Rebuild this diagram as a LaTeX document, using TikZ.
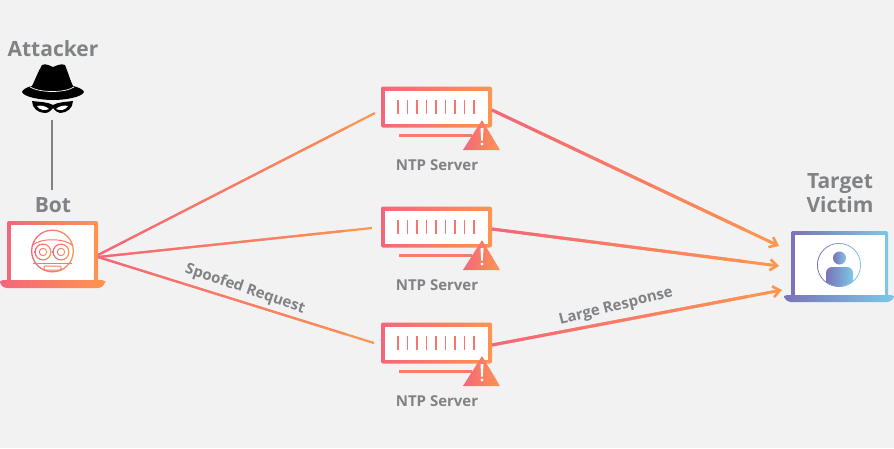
\documentclass[tikz,border=0pt]{standalone}
\usepackage{fontspec}
\setmainfont{Open Sans}
\usetikzlibrary{arrows.meta, positioning, calc}
\definecolor{bgc}{HTML}{F2F2F2}
\definecolor{pinkc}{HTML}{F4667C}
\definecolor{orangec}{HTML}{FD9450}
\definecolor{greyc}{HTML}{808285}
\definecolor{purplec}{HTML}{7B72B8}
\definecolor{bluec}{HTML}{7CC8E6}
\tikzset{
  warm/.style={left color=pinkc, right color=orangec},
  cool/.style={left color=purplec, right color=bluec},
  lbl/.style={text=greyc, font=\bfseries\fontsize{21}{24}\selectfont, inner sep=0pt},
  small/.style={text=greyc, font=\bfseries\fontsize{15}{18}\selectfont, inner sep=0pt},
  server/.style={warm, rectangle, rounded corners=2pt, minimum width=111pt, minimum height=41pt, inner sep=0pt},
  wire/.style={draw=orangec, line width=2.2pt},
  warr/.style={wire, line width=3pt, -{Straight Barb[length=7pt,width=11pt,line width=2.6pt]}},
  tick/.style={draw=pinkc!70!orangec, line width=1.5pt},
  link/.style={draw=greyc, line width=2.5pt},
}
\begin{document}
\begin{tikzpicture}[x=1pt, y=-1pt]
  \useasboundingbox[fill=bgc] (0,0) rectangle (894,448);

  % labels
  \node[lbl] (attacker) at (53,49) {Attacker};
  \node[lbl] (botlabel) at (53,205) {Bot};
  \node[lbl, align=center] (victimlabel) at (840,193) {Target\\Victim};
  \node[small, rotate=-19] (spoofed) at (245,289) {Spoofed Request};
  \node[small, rotate=14] (large) at (616,307) {Large Response};

  % attacker hat and mask
  \fill[black] (42,65) .. controls (46,63) and (50,66) .. (53,67) .. controls (56,66) and (61,63) .. (65,65)
    .. controls (68,72) and (70,80) .. (73,86) .. controls (78,87) and (84,90) .. (84,92)
    .. controls (82,97) and (66,100) .. (53,100) .. controls (40,100) and (24,97) .. (22,92)
    .. controls (22,90) and (27,87) .. (32,86) .. controls (35,80) and (38,72) .. (42,65) -- cycle;
  \draw[white, line width=.7pt] (30,87) .. controls (40,93) and (65,93) .. (74,87);
  \fill[black] (32,101) .. controls (40,102) and (48,102) .. (53,105) .. controls (58,102) and (66,102) .. (73,101)
    .. controls (73,108) and (67,113) .. (60,113) .. controls (57,113) and (55,110) .. (53,108)
    .. controls (51,110) and (49,113) .. (45,113) .. controls (38,113) and (32,108) .. (32,101) -- cycle;
  \fill[white] (37,106) .. controls (41,105) and (46,106) .. (49,109) .. controls (45,111) and (39,110) .. (37,106) -- cycle;
  \fill[white] (68,106) .. controls (64,105) and (59,106) .. (56,109) .. controls (60,111) and (66,110) .. (68,106) -- cycle;
  \coordinate (hat) at (52,120);
  \coordinate (botneck) at (52,190);
  \draw[link] (hat) -- (botneck);

  % bot laptop
  \node[warm, rectangle, rounded corners=2pt, minimum width=91pt, minimum height=60pt, inner sep=0pt] (bot) at (52.5,251) {};
  \node[fill=white, minimum width=83pt, minimum height=55pt, inner sep=0pt] (botscreen) at (52.5,252.5) {};
  \shade[warm, rounded corners=3pt] (0,280) -- (105,280) -- (105,284) -- (101,288) -- (4,288) -- (0,284) -- cycle;
  \shade[warm, even odd rule] (52.5,251) circle (21.5) circle (20.2);
  \shade[warm, even odd rule] (43,252) circle (8.5) circle (7.3);
  \shade[warm, even odd rule] (43,252) circle (4.2) circle (3.2);
  \shade[warm, even odd rule] (61,252) circle (8.5) circle (7.3);
  \shade[warm, even odd rule] (61,252) circle (4.2) circle (3.2);
  \draw[pinkc!60!orangec, line width=1pt] (33,245) .. controls (40,238) and (64,238) .. (72,245);
  \draw[pinkc!60!orangec, line width=1pt] (33,263) -- (72,263);
  \draw[pinkc!60!orangec, line width=1pt, rounded corners=1pt] (44,266) rectangle (61,270);

  % victim laptop
  \node[cool, rectangle, rounded corners=2pt, minimum width=97pt, minimum height=66pt, inner sep=0pt] (victim) at (839.5,264) {};
  \node[fill=white, minimum width=90pt, minimum height=60pt, inner sep=0pt] (victimscreen) at (839.5,265) {};
  \shade[cool, rounded corners=3pt] (784,295) -- (894,295) -- (894,298) -- (890,302) -- (788,302) -- (784,298) -- cycle;
  \shade[cool, even odd rule] (839,265) circle (22) circle (21.2);
  \shade[cool] (839.5,258) circle (6.5);
  \begin{scope}
    \clip (839,265) circle (21.2);
    \shade[cool, rounded corners=6pt] (826,295) -- (826,267) -- (853,267) -- (853,295) -- cycle;
  \end{scope}

  % ntp servers
  \foreach \nm/\yy in {ntpa/107, ntpb/227, ntpc/343}{
    \node[server] (\nm) at (436.5,\yy) {};
    \node[fill=white, minimum width=103pt, minimum height=33pt, inner sep=0pt] (\nm in) at (\nm) {};
    \foreach \xx in {-38.5,-29,...,38}
      \draw[tick] ($(\nm)+(\xx,-7)$) -- ($(\nm)+(\xx,7)$);
    \node[small] (\nm label) at ($(\nm)+(.5,58)$) {NTP Server};
    \coordinate (\nm shelf) at ($(\nm)+(-37.5,28)$);
    \coordinate (\nm stop) at ($(\nm)+(35,28)$);
    \draw[line width=3pt, draw=pinkc!50!orangec] (\nm shelf) -- (\nm stop);
    \shade[warm, rounded corners=.6pt] ($(\nm)+(45.5,13)$) -- ($(\nm)+(63.5,43)$) -- ($(\nm)+(26.5,43)$) -- cycle;
    \fill[white] ($(\nm)+(44,21)$) -- ($(\nm)+(47,21)$) -- ($(\nm)+(46.3,33.5)$) -- ($(\nm)+(44.7,33.5)$) -- cycle;
    \fill[white] ($(\nm)+(45.5,37)$) circle (1.7);
  }

  % connectors
  \coordinate (bota) at (98,255);
  \coordinate (botb) at (98,257);
  \coordinate (ina) at (375,113);
  \coordinate (inb) at (372,228);
  \coordinate (inc) at (374,343);
  \coordinate (outa) at (492,110);
  \coordinate (outb) at (492,229);
  \coordinate (outc) at (492,345);
  \coordinate (tipa) at (779,246);
  \coordinate (tipb) at (779,266);
  \coordinate (tipc) at (782,290);
  \foreach \from/\to in {bota/ina, botb/inb, botb/inc}{
    \draw[wire] (\from) -- (\to);
    \foreach \st [evaluate=\st as \en using \st+.1, evaluate=\st as \mix using 100-\st*100] in {0,.1,...,.9}
      \draw[wire, draw=pinkc!\mix!orangec] ($(\from)!\st!(\to)$) -- ($(\from)!\en!(\to)$);
  }
  \foreach \from/\to in {outa/tipa, outb/tipb, outc/tipc}{
    \draw[warr] (\from) -- (\to);
    \foreach \st [evaluate=\st as \en using \st+.08, evaluate=\st as \mix using 100-\st*110] in {0,.08,...,.84}
      \draw[wire, line width=3pt, draw=pinkc!\mix!orangec] ($(\from)!\st!(\to)$) -- ($(\from)!\en!(\to)$);
  }
\end{tikzpicture}
\end{document}
